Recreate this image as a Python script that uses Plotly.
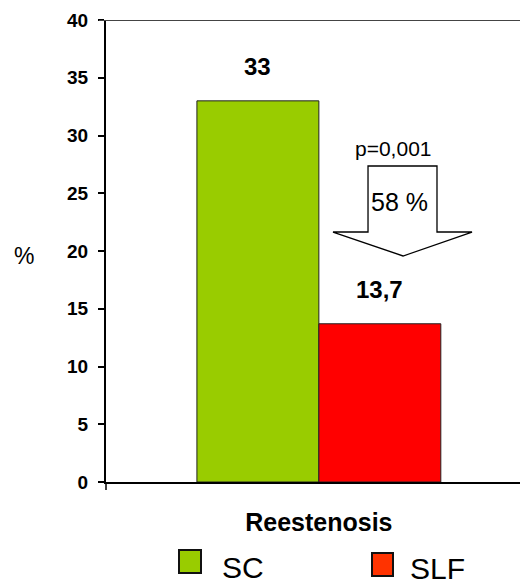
import plotly.graph_objects as go

# Data
category = ["Reestenosis"]
groups = ["SC", "SLF"]
values = [33, 13.7]
bar_colors = ["#99CC00", "#FF0000"]
legend_colors = ["#99CC00", "#FF3300"]
y_ticks = [0, 5, 10, 15, 20, 25, 30, 35, 40]
p_text = "p=0,001"
reduction_text = "58 %"

FONT = "Arial, 'Liberation Sans', sans-serif"

W, H = 523, 586
ML, MR, MT, MB = 106, 3, 20, 104
PW = W - ML - MR
PH = H - MT - MB


def px_x(px):
    return (px - ML) / PW


def px_y(py):
    return (H - MB - py) / PH


def fmt(v):
    return f"{v:g}".replace(".", ",")


def label(x, y, text, size, xanchor="center"):
    fig.add_annotation(x=px_x(x), y=px_y(y), xref="paper", yref="paper",
                       text=text, showarrow=False, xanchor=xanchor, yanchor="middle",
                       borderpad=0,
                       font=dict(family=FONT, size=size, color="black"))


fig = go.Figure()
for g, v, c in zip(groups, values, bar_colors):
    fig.add_trace(go.Bar(
        x=category, y=[v], name=g,
        marker=dict(color=c, line=dict(color="#222222", width=1)),
        showlegend=False,
    ))

# value labels above each bar
bar_offsets = [-61, 61]
for v, dx in zip(values, bar_offsets):
    fig.add_annotation(
        x=category[0], y=v, xref="x", yref="y", text=f"<b>{fmt(v)}</b>",
        showarrow=False, xshift=dx, xanchor="center", yanchor="bottom", yshift=19,
        font=dict(family=FONT, size=24, color="black"),
    )

# downward block arrow between the bars
pts = [(368, 166), (437, 166), (437, 232), (472, 232), (403, 256), (333, 232), (368, 232)]
path = "M " + " L ".join(f"{px_x(a):.4f} {px_y(b):.4f}" for a, b in pts) + " Z"
fig.add_shape(type="path", path=path, xref="paper", yref="paper",
              fillcolor="white", line=dict(color="black", width=1.3))

label(393, 148, p_text, 21)
label(399, 202, reduction_text, 25)

# y-axis title
label(24, 256, "%", 23)

# top frame line running out over the 40 tick
fig.add_shape(type="line", xref="paper", yref="y", x0=px_x(99), x1=1, y0=40, y1=40,
              line=dict(color="#444444", width=2))
# boundary tick under the x axis
fig.add_shape(type="line", xref="paper", yref="paper", x0=0, x1=0,
              y0=0, y1=px_y(490), line=dict(color="black", width=1.5))

# legend
legend_boxes = [(179, 201, 550, 573), (372, 393, 553, 576)]
legend_text = [(221, 567), (409, 568)]
for g, c, (x0, x1, y0, y1), (tx, ty) in zip(groups, legend_colors, legend_boxes, legend_text):
    fig.add_shape(type="rect", xref="paper", yref="paper",
                  x0=px_x(x0), x1=px_x(x1), y0=px_y(y1), y1=px_y(y0),
                  fillcolor=c, line=dict(color="#111111", width=2))
    label(tx, ty, g, 30, xanchor="left")

fig.update_layout(
    width=W, height=H,
    margin=dict(l=ML, r=MR, t=MT, b=MB),
    paper_bgcolor="white", plot_bgcolor="white",
    barmode="group", bargap=0.293,
    font=dict(family=FONT, color="black"),
    xaxis=dict(
        range=[-0.617, 0.583], showgrid=False, zeroline=False,
        showline=True, linecolor="black", linewidth=2,
        ticks="", tickfont=dict(family=FONT, size=25, color="black", weight="bold"),
        ticklabelstandoff=17,
    ),
    yaxis=dict(
        range=[0, 40], tickvals=y_ticks, showgrid=False, zeroline=False,
        showline=True, linecolor="black", linewidth=2,
        ticks="outside", ticklen=6, tickwidth=1.5, tickcolor="black",
        tickfont=dict(family=FONT, size=19, color="black", weight="bold"),
        ticklabelstandoff=6,
    ),
)

fig.write_html("out.html")
